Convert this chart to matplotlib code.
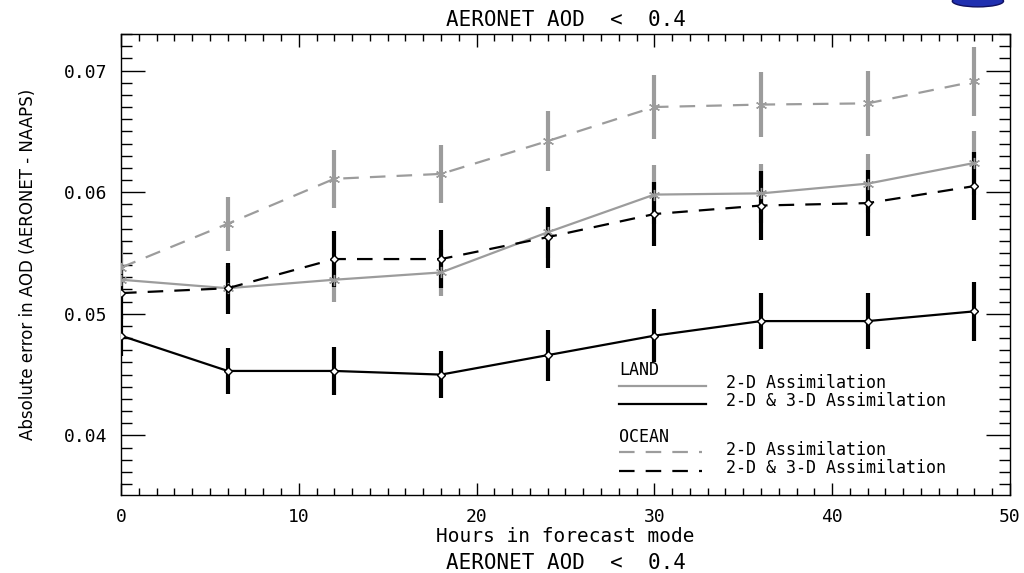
import numpy as np
import matplotlib
matplotlib.use("Agg")
import matplotlib.pyplot as plt
from matplotlib.lines import Line2D
from matplotlib.patches import Ellipse

# Forecast hours
hours = [0, 6, 12, 18, 24, 30, 36, 42, 48]

# LAND, 2-D assimilation (gray solid)
land_2d = [0.0528, 0.0521, 0.0528, 0.0534, 0.0567, 0.0598, 0.0599, 0.0607, 0.0624]
land_2d_err = [0.0018, 0.0018, 0.0018, 0.0019, 0.0021, 0.0024, 0.0024, 0.0024, 0.0026]

# LAND, 2-D & 3-D assimilation (black solid)
land_3d = [0.0482, 0.0453, 0.0453, 0.0450, 0.0466, 0.0482, 0.0494, 0.0494, 0.0502]
land_3d_err = [0.0017, 0.0019, 0.0020, 0.0019, 0.0021, 0.0022, 0.0023, 0.0023, 0.0024]

# OCEAN, 2-D assimilation (gray dashed)
ocean_2d = [0.0538, 0.0574, 0.0611, 0.0615, 0.0642, 0.0670, 0.0672, 0.0673, 0.0691]
ocean_2d_err = [0.0021, 0.0022, 0.0024, 0.0024, 0.0025, 0.0026, 0.0027, 0.0027, 0.0028]

# OCEAN, 2-D & 3-D assimilation (black dashed)
ocean_3d = [0.0517, 0.0521, 0.0545, 0.0545, 0.0563, 0.0582, 0.0589, 0.0591, 0.0605]
ocean_3d_err = [0.0021, 0.0021, 0.0023, 0.0024, 0.0025, 0.0026, 0.0028, 0.0027, 0.0028]

title = "AERONET AOD  <  0.4"
gray = "#9c9c9c"
mono = "DejaVu Sans Mono"

plt.rcParams["font.family"] = "DejaVu Sans"

fig = plt.figure(figsize=(10.24, 5.73), dpi=100)
ax = fig.add_axes([0.1182, 0.1361, 0.868, 0.8045])

asterisk = (6, 2, 0)


def draw(y, err, color, ls, marker):
    ax.errorbar(hours, y, yerr=err, fmt="none", ecolor=color, elinewidth=3.0,
                capsize=0, zorder=2)
    ax.plot(hours, y, color=color, ls=ls, lw=1.6, marker=marker,
            markersize=8 if marker == asterisk else 4.5,
            markerfacecolor="white", markeredgecolor=color,
            markeredgewidth=1.0, zorder=3, dashes=(7, 5) if ls == "--" else (None, None))


# gray series first, black ones on top
draw(ocean_2d, ocean_2d_err, gray, "--", asterisk)
draw(land_2d, land_2d_err, gray, "-", asterisk)
draw(ocean_3d, ocean_3d_err, "black", "--", "D")
draw(land_3d, land_3d_err, "black", "-", "D")

ax.set_xlim(0, 50)
ax.set_ylim(0.0351, 0.0730)
ax.set_xticks([0, 10, 20, 30, 40, 50])
ax.set_xticklabels(["0", "10", "20", "30", "40", "50"], family=mono, fontsize=13)
ax.set_xticks(np.arange(0, 51, 1), minor=True)
ax.set_yticks([0.04, 0.05, 0.06, 0.07])
ax.set_yticklabels(["0.04", "0.05", "0.06", "0.07"], family=mono, fontsize=13)
ax.set_yticks(np.arange(0.036, 0.0731, 0.001), minor=True)

ax.tick_params(axis="both", which="both", direction="in", top=True, right=True,
               width=1.0, colors="black")
ax.tick_params(axis="x", which="major", length=9, pad=9)
ax.tick_params(axis="x", which="minor", length=5)
ax.tick_params(axis="y", which="major", length=17, pad=10)
ax.tick_params(axis="y", which="minor", length=8)
for s in ax.spines.values():
    s.set_linewidth(1.0)

ax.set_ylabel("Absolute error in AOD (AERONET - NAAPS)", fontsize=12, labelpad=19)
ax.set_xlabel("Hours in forecast mode", family=mono, fontsize=14, labelpad=1)
ax.set_title(title, family=mono, fontsize=15, pad=6)
fig.text(0.5525, 0.018, title, ha="center", va="center", family=mono, fontsize=15)

# legend drawn by hand to match layout
def ax_x(px):
    return (px - 121) / 889.0


def ax_y(py):
    return (495 - py) / 461.0


tr = ax.transAxes
lfs = 12
ax.text(ax_x(619), ax_y(370), "LAND", transform=tr, family=mono, fontsize=lfs, va="center")
ax.add_line(Line2D([ax_x(619), ax_x(706)], [ax_y(386), ax_y(386)], color=gray,
                   lw=1.6, transform=tr))
ax.text(ax_x(726), ax_y(383), "2-D Assimilation", transform=tr, family=mono,
        fontsize=lfs, va="center")
ax.add_line(Line2D([ax_x(619), ax_x(706)], [ax_y(404), ax_y(404)], color="black",
                   lw=1.6, transform=tr))
ax.text(ax_x(726), ax_y(401), "2-D & 3-D Assimilation", transform=tr, family=mono,
        fontsize=lfs, va="center")
ax.text(ax_x(619), ax_y(437), "OCEAN", transform=tr, family=mono, fontsize=lfs, va="center")
ax.add_line(Line2D([ax_x(619), ax_x(702)], [ax_y(452), ax_y(452)], color=gray,
                   lw=1.6, ls="--", dashes=(7, 5), transform=tr))
ax.text(ax_x(726), ax_y(450), "2-D Assimilation", transform=tr, family=mono,
        fontsize=lfs, va="center")
ax.add_line(Line2D([ax_x(619), ax_x(702)], [ax_y(471), ax_y(471)], color="black",
                   lw=1.6, ls="--", dashes=(7, 5), transform=tr))
ax.text(ax_x(726), ax_y(468), "2-D & 3-D Assimilation", transform=tr, family=mono,
        fontsize=lfs, va="center")

# clipped logo at top-right corner
fig.patches.append(Ellipse((0.955, 0.998), 0.05, 0.02, transform=fig.transFigure,
                           facecolor="#2030b0", edgecolor="#101060", figure=fig))

fig.savefig("out.png", dpi=100, facecolor="white")
